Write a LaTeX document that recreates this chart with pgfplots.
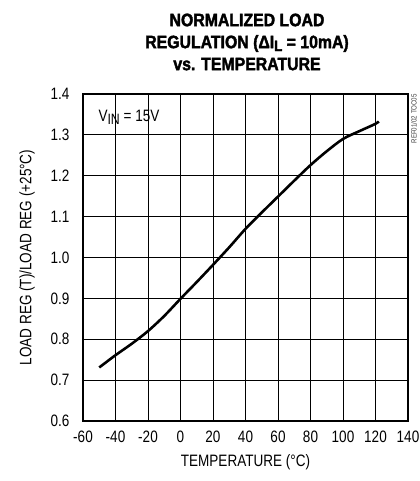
\documentclass[border=0pt]{standalone}
\usepackage{fontspec}
\setmainfont{Liberation Sans}[FakeStretch=0.82]
\newfontfamily\titlefont{Liberation Sans Bold}[FakeStretch=0.88,FakeBold=2]
\usepackage{pgfplots}
\pgfplotsset{compat=1.18}
\newcommand{\lbl}{\fontsize{16.5bp}{19bp}\selectfont}
\begin{document}
\begin{tikzpicture}
\path[use as bounding box] (0,0) rectangle (420bp,481bp);
\node[align=center, font={\titlefont\fontsize{18bp}{22bp}\selectfont}] at (247bp,439bp)
  {NORMALIZED LOAD\\REGULATION (ΔI\raisebox{-0.3ex}{\fontsize{15bp}{15bp}\selectfont L} = 10mA)\\vs. TEMPERATURE};
\begin{axis}[
  at={(83bp,60bp)}, anchor=south west,
  scale only axis, width=325bp, height=327bp,
  xmin=-60, xmax=140, ymin=0.6, ymax=1.4,
  xtick={-60,-40,-20,0,20,40,60,80,100,120,140},
  ytick={0.6,0.7,0.8,0.9,1.0,1.1,1.2,1.3,1.4},
  xmajorgrids=true, ymajorgrids=true,
  grid style={black, line width=0.8pt},
  axis line style={line width=2.4pt},
  tick align=inside,
  major tick style={black, line width=0.8pt},
  /pgf/number format/assume math mode=true,
  ticklabel style={font=\lbl},
  yticklabel style={/pgf/number format/fixed, /pgf/number format/fixed zerofill, /pgf/number format/precision=1, xshift=-10bp},
  xticklabel style={yshift=-6bp},
  xlabel={TEMPERATURE (°C)},
  ylabel={LOAD REG (T)/LOAD REG (+25°C)},
  label style={font=\lbl},
  xlabel style={at={(axis description cs:0.5,0)}, anchor=center, yshift=-41bp},
  ylabel style={at={(axis description cs:0,0.5)}, anchor=center, yshift=56bp},
  clip=false,
]
\addplot[black, line width=2.6pt, smooth] coordinates {
(-50,0.731) (-40,0.761) (-30,0.789) (-20,0.820) (-10,0.857) (0,0.899)
(10,0.940) (20,0.982) (30,1.025) (40,1.070) (50,1.110) (60,1.149)
(70,1.188) (80,1.226) (90,1.260) (100,1.290) (110,1.309) (120,1.327) (122,1.333)
};
\node[anchor=west, font=\lbl] at (rel axis cs:0.037,0.93) {V\raisebox{-0.35ex}{\fontsize{15bp}{15bp}\selectfont IN} = 15V};
\node[rotate=90, anchor=north east, font={\fontsize{7.5bp}{8bp}\selectfont}, text=black!75, inner sep=0pt] at ([xshift=3bp]rel axis cs:1,1) {REF01/02 TOC05};
\end{axis}
\end{tikzpicture}
\end{document}
